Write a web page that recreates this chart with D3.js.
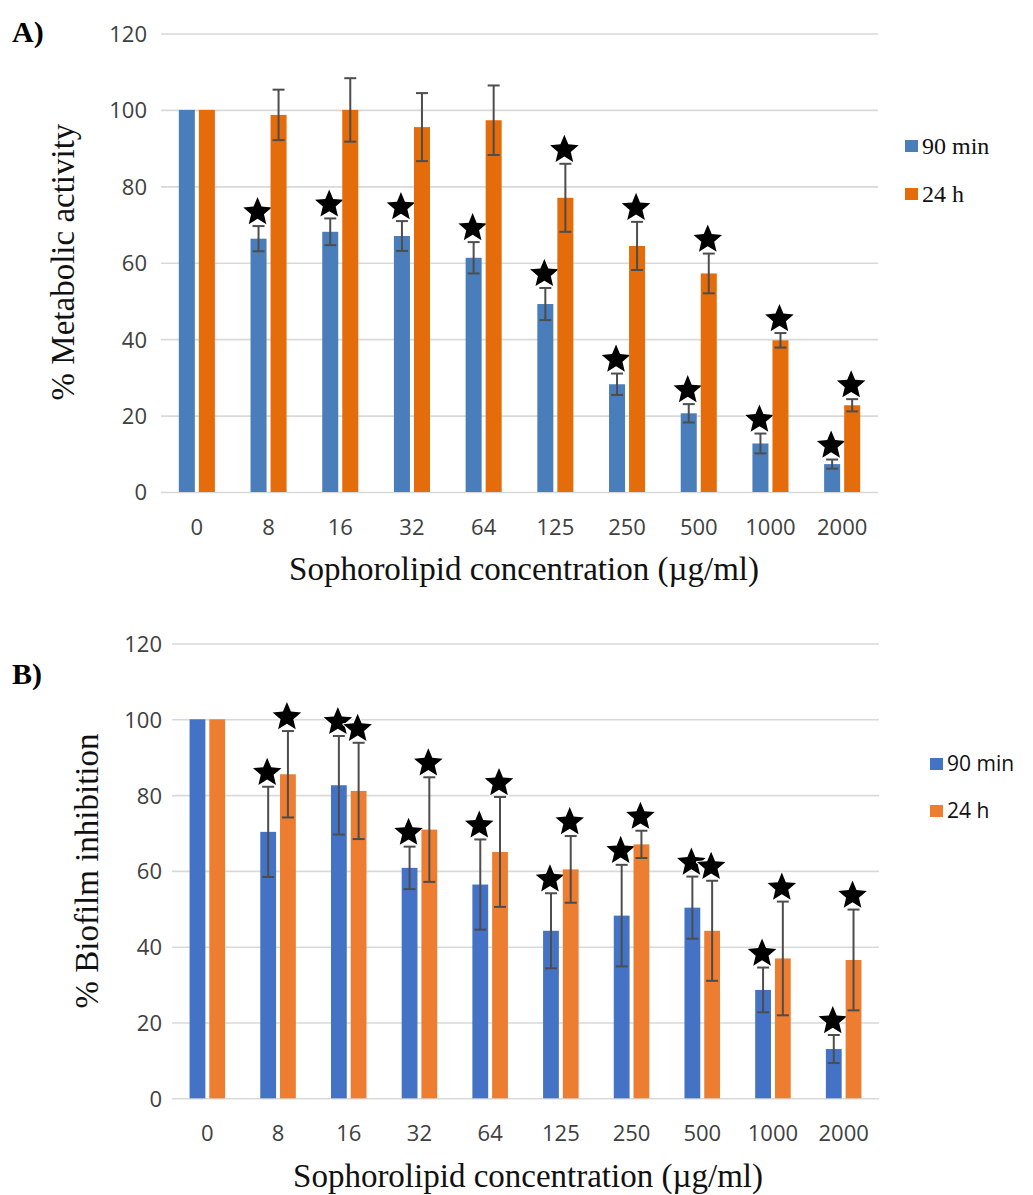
<!DOCTYPE html>
<html>
<head>
<meta charset="utf-8">
<script src="https://cdn.jsdelivr.net/npm/d3@7"></script>
<style>
  html, body { margin: 0; padding: 0; background: #ffffff; }
  svg { display: block; }
</style>
</head>
<body>
<svg id="chart" width="1033" height="1195"></svg>
<script>
// ---------- data ----------
const categories = ["0", "8", "16", "32", "64", "125", "250", "500", "1000", "2000"];
const seriesNames = ["90 min", "24 h"];
const yTickValues = [0, 20, 40, 60, 80, 100, 120];

// Panel A: % Metabolic activity
const metab90 = [100, 66.3, 68.1, 67.0, 61.3, 49.2, 28.2, 20.6, 12.7, 7.3];
const metab90Err = [0, 3.3, 3.5, 3.9, 4.1, 4.2, 2.8, 2.4, 2.6, 1.2];
const metab24 = [100, 98.7, 100.0, 95.5, 97.3, 77.0, 64.4, 57.2, 39.7, 22.7];
const metab24Err = [0, 6.6, 8.3, 8.9, 9.1, 8.9, 6.3, 5.2, 1.9, 1.6];
const metab90Sig = [false, true, true, true, true, true, true, true, true, true];
const metab24Sig = [false, false, false, false, false, true, true, true, true, true];

// Panel B: % Biofilm inhibition
const biofilm90 = [100, 70.3, 82.6, 60.8, 56.4, 44.2, 48.2, 50.3, 28.6, 13.0];
const biofilm90Err = [0, 11.9, 13.0, 5.6, 11.9, 9.9, 13.4, 8.2, 5.9, 3.7];
const biofilm24 = [100, 85.5, 81.1, 70.9, 65.0, 60.4, 67.0, 44.2, 36.9, 36.5];
const biofilm24Err = [0, 11.4, 12.7, 13.8, 14.5, 8.8, 3.6, 13.2, 15.0, 13.3];
const biofilm90Sig = [false, true, true, true, true, true, true, true, true, true];
const biofilm24Sig = [false, true, true, true, true, true, true, true, true, true];

// ---------- drawing ----------
const svg = d3.select("#chart");
svg.append("rect").attr("width", 1033).attr("height", 1195).attr("fill", "#fff");

const SERIF = "'Liberation Serif', 'Times New Roman', serif";
const SANS = "'Open Sans', 'Noto Sans', sans-serif";

// a plump five-pointed star symbol type (size = outer radius squared)
const fatStar = {
  draw(context, size) {
    const r = Math.sqrt(size), ri = r * 0.45;
    for (let k = 0; k < 10; k++) {
      const a = -Math.PI / 2 + k * Math.PI / 5;
      const rr = k % 2 === 0 ? r : ri;
      const px = rr * Math.cos(a), py = rr * Math.sin(a);
      if (k === 0) context.moveTo(px, py); else context.lineTo(px, py);
    }
    context.closePath();
  }
};

function panel(cfg) {
  const g = svg.append("g");
  const x0 = d3.scaleBand().domain(categories).range([cfg.left, cfg.right]).paddingInner(0).paddingOuter(0);
  const x1 = d3.scaleBand().domain(seriesNames).range([0, x0.bandwidth()]).paddingInner(0.2).paddingOuter(0.89);
  const y = d3.scaleLinear().domain([0, 120]).range([cfg.bottom, cfg.top]);

  // gridlines + y tick labels
  const yAxis = d3.axisLeft(y).tickValues(yTickValues)
    .tickSize(-(cfg.right - cfg.left)).tickPadding(14).tickFormat(d3.format("d"));
  const ya = g.append("g").attr("transform", `translate(${cfg.left},0)`).call(yAxis);
  ya.select(".domain").remove();
  ya.selectAll(".tick line").attr("stroke", "#d9d9d9").attr("stroke-width", 1.6);
  ya.selectAll(".tick text").attr("font-family", SANS).attr("font-size", 22)
    .attr("fill", "#404040").attr("x", cfg.yLabelX - cfg.left).attr("dy", "0.36em");

  // x tick labels
  const xAxis = d3.axisBottom(x0).tickSize(0).tickPadding(0);
  const xa = g.append("g").attr("transform", `translate(0,${cfg.bottom})`).call(xAxis);
  xa.select(".domain").remove();
  xa.selectAll(".tick text").attr("font-family", SANS).attr("font-size", 22)
    .attr("fill", "#404040").attr("y", cfg.xLabelBaseline - cfg.bottom).attr("dy", 0);

  const series = [
    { name: seriesNames[0], vals: cfg.s1, err: cfg.e1, sig: cfg.g1, color: cfg.c1 },
    { name: seriesNames[1], vals: cfg.s2, err: cfg.e2, sig: cfg.g2, color: cfg.c2 }
  ];

  series.forEach(s => {
    const sg = g.append("g");
    const rows = categories.map((c, i) => ({ c, v: s.vals[i], e: s.err[i], sig: s.sig[i] }));
    // bars
    sg.selectAll("rect").data(rows).enter().append("rect")
      .attr("x", d => x0(d.c) + x1(s.name))
      .attr("width", x1.bandwidth())
      .attr("y", d => y(d.v))
      .attr("height", d => y(0) - y(d.v))
      .attr("fill", s.color);
    // error bars
    const eb = sg.selectAll("g.err").data(rows.filter(d => d.e > 0)).enter().append("g").attr("class", "err")
      .attr("stroke", "#4d4d4d").attr("stroke-width", 2);
    const cx = d => x0(d.c) + x1(s.name) + x1.bandwidth() / 2;
    eb.append("line").attr("x1", cx).attr("x2", cx)
      .attr("y1", d => y(d.v - d.e)).attr("y2", d => y(d.v + d.e));
    eb.append("line").attr("x1", d => cx(d) - 6).attr("x2", d => cx(d) + 6)
      .attr("y1", d => y(d.v + d.e)).attr("y2", d => y(d.v + d.e));
    eb.append("line").attr("x1", d => cx(d) - 6).attr("x2", d => cx(d) + 6)
      .attr("y1", d => y(d.v - d.e)).attr("y2", d => y(d.v - d.e));
    // significance stars
    const star = d3.symbol().type(fatStar).size(15 * 15);
    sg.selectAll("path.star").data(rows.filter(d => d.sig)).enter().append("path").attr("class", "star")
      .attr("d", star)
      .attr("transform", d => `translate(${cx(d) - 1},${y(d.v + d.e) - 14})`)
      .attr("fill", "#000").attr("stroke", "#fff").attr("stroke-width", 2)
      .attr("paint-order", "stroke").attr("stroke-linejoin", "round");
  });

  // legend
  const lg = g.append("g");
  series.forEach((s, i) => {
    const ly = cfg.legendY + i * cfg.legendGap;
    lg.append("rect").attr("x", cfg.legendX).attr("y", ly - 6).attr("width", 13).attr("height", 12).attr("fill", s.color);
    lg.append("text").attr("x", cfg.legendX + 17).attr("y", ly).attr("dy", "0.35em")
      .attr("font-family", cfg.legendFont).attr("font-size", cfg.legendSize)
      .attr("fill", "#111").text(s.name);
  });

  // axis titles
  g.append("text").attr("transform", `translate(${cfg.yTitleX},${cfg.yTitleY}) rotate(-90)`)
    .attr("text-anchor", "middle").attr("font-family", SERIF).attr("font-size", 33)
    .attr("fill", "#111").text(cfg.yTitle);
  g.append("text").attr("x", cfg.xTitleX).attr("y", cfg.xTitleY)
    .attr("text-anchor", "middle").attr("font-family", SERIF).attr("font-size", 33)
    .attr("fill", "#111").text("Sophorolipid concentration (µg/ml)");

  // panel label
  g.append("text").attr("x", 12).attr("y", cfg.labelY)
    .attr("font-family", SERIF).attr("font-weight", "bold").attr("font-size", 30)
    .attr("fill", "#000").text(cfg.label);
}

panel({
  left: 161, right: 878, top: 33.5, bottom: 492,
  yLabelX: 147, xLabelBaseline: 535,
  s1: metab90, e1: metab90Err, g1: metab90Sig, c1: "#4a7ebb",
  s2: metab24, e2: metab24Err, g2: metab24Sig, c2: "#e46c0a",
  legendX: 905, legendY: 146, legendGap: 48, legendFont: SERIF, legendSize: 24,
  yTitle: "% Metabolic activity", yTitleX: 74, yTitleY: 262,
  xTitleX: 524, xTitleY: 580,
  label: "A)", labelY: 42
});

panel({
  left: 172, right: 879, top: 643.5, bottom: 1098.3,
  yLabelX: 162, xLabelBaseline: 1141,
  s1: biofilm90, e1: biofilm90Err, g1: biofilm90Sig, c1: "#4472c4",
  s2: biofilm24, e2: biofilm24Err, g2: biofilm24Sig, c2: "#ed7d31",
  legendX: 930, legendY: 764, legendGap: 47, legendFont: SANS, legendSize: 21,
  yTitle: "% Biofilm  inhibition", yTitleX: 98, yTitleY: 871,
  xTitleX: 528, xTitleY: 1187,
  label: "B)", labelY: 684
});
</script>
</body>
</html>
